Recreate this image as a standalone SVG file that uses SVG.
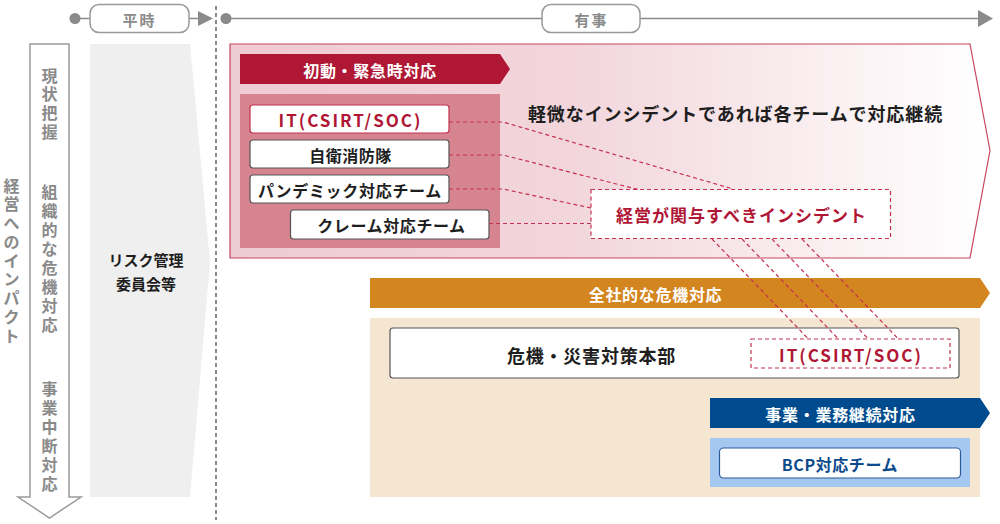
<svg xmlns="http://www.w3.org/2000/svg" width="1000" height="524" viewBox="0 0 1000 524">
<defs>
<style>
text{font-family:"Noto Sans CJK JP","Noto Sans",sans-serif;font-weight:bold;dominant-baseline:central}
.grey{fill:#8a8a8a}
.w{fill:#fff;font-size:16px;text-anchor:middle;letter-spacing:0.7px}
.blk{fill:#1e1e1e;text-anchor:middle}
.red{fill:#b01735;text-anchor:middle}
.tl{stroke:#8a8a8a;stroke-width:1.5;fill:none}
.pill{fill:#fff;stroke:#9a9a9a;stroke-width:1.5}
.team{fill:#fff;stroke:#555;stroke-width:1.2}
.dl{stroke:#c4304f;stroke-width:1.2;fill:none;stroke-dasharray:4 3}
.vt{font-size:16px;text-anchor:middle}
</style>
<linearGradient id="pinkg" x1="0" y1="0" x2="1" y2="0">
<stop offset="0" stop-color="#efcbd3"/>
<stop offset="0.45" stop-color="#f2d6dc"/>
<stop offset="1" stop-color="#ffffff"/>
</linearGradient>
</defs>

<g id="timeline">
<line class="tl" x1="75" y1="18.5" x2="200" y2="18.5"/>
<circle cx="75" cy="18.5" r="5.5" fill="#8a8a8a"/>
<rect class="pill" x="90" y="4.5" width="99" height="28" rx="9"/>
<text class="grey" x="139.5" y="19" font-size="15" text-anchor="middle" letter-spacing="2">平時</text>
<polygon points="198,11 213,18.5 198,26" fill="#8a8a8a"/>
<line x1="216" y1="6" x2="216" y2="520" stroke="#8a8a8a" stroke-width="2" stroke-dasharray="4 3"/>
<line class="tl" x1="226" y1="18.5" x2="980" y2="18.5"/>
<circle cx="226" cy="18.5" r="5.5" fill="#8a8a8a"/>
<rect class="pill" x="542" y="4.5" width="98" height="28" rx="9"/>
<text class="grey" x="591.5" y="19" font-size="15" text-anchor="middle" letter-spacing="2">有事</text>
<polygon points="978,10 993,18.5 978,27" fill="#8a8a8a"/>
</g>

<g id="impact">
<polygon points="30,44 69,44 69,497 81,497 49.5,518 18,497 30,497" fill="#fff" stroke="#9a9a9a" stroke-width="1.5"/>
<text class="grey vt" x="49.5 49.5 49.5 49.5" y="74.5 93.2 111.9 130.6">現状把握</text>
<text class="grey vt" x="49.5 49.5 49.5 49.5 49.5 49.5 49.5 49.5" y="190.5 209.6 228.7 247.8 266.9 286 305.1 324.2">組織的な危機対応</text>
<text class="grey vt" x="49.5 49.5 49.5 49.5 49.5 49.5" y="387.5 406.5 425.5 444.5 463.5 482.5">事業中断対応</text>
<text class="grey vt" x="11.5 11.5 11.5 11.5 11.5 11.5 11.5 11.5 11.5" y="184.5 203.3 222 240.8 259.5 278.3 297 315.8 334.5">経営へのインパクト</text>
</g>

<g id="risk-committee">
<polygon points="90,44 190,44 210,262 190,497 90,497" fill="#efefef"/>
<text class="blk" x="146" y="259" font-size="15">リスク管理</text>
<text class="blk" x="146" y="283" font-size="15">委員会等</text>
</g>

<g id="initial-response">
<polygon points="230,44 970,44 990,150.5 970,258 230,258" fill="url(#pinkg)" stroke="#c8455f" stroke-width="1.2"/>
<polygon points="240,54 500,54 510,69 500,84 240,84" fill="#b01735"/>
<text class="w" x="370" y="69.5">初動・緊急時対応</text>
<rect x="240" y="94" width="260" height="154" fill="#d6848f"/>
<text class="blk" x="735.5" y="113" font-size="18" letter-spacing="0.9">軽微なインシデントであれば各チームで対応継続</text>
</g>

<g id="team-it">
<rect x="250" y="105" width="199" height="28" rx="3" fill="#fff" stroke="#c4304f" stroke-width="1.2"/>
<text class="red" x="350.5" y="119.5" font-size="17" letter-spacing="2">IT(CSIRT/SOC)</text>
</g>
<g id="team-fire">
<rect class="team" x="250" y="140" width="199" height="28" rx="3"/>
<text class="blk" x="350.5" y="154.5" font-size="16" letter-spacing="0.5">自衛消防隊</text>
</g>
<g id="team-pandemic">
<rect class="team" x="250" y="175" width="199" height="28" rx="3"/>
<text class="blk" x="350" y="189.5" font-size="16" letter-spacing="0.7">パンデミック対応チーム</text>
</g>
<g id="team-claim">
<rect class="team" x="290.5" y="210" width="198.5" height="29" rx="3"/>
<text class="blk" x="391.5" y="224.5" font-size="16" letter-spacing="0.6">クレーム対応チーム</text>
</g>

<g id="mgmt-incident">
<rect x="591" y="189.5" width="299.5" height="49" fill="#fff" stroke="#c4304f" stroke-width="1.2" stroke-dasharray="4 3"/>
<text class="red" x="741.5" y="214" font-size="17" letter-spacing="1">経営が関与すべきインシデント</text>
</g>

<g id="company-wide">
<polygon points="370,278 980,278 990,293 980,308 370,308" fill="#d3851f"/>
<text class="w" x="655.5" y="293.5">全社的な危機対応</text>
<rect x="370" y="318" width="610" height="179" fill="#f5e6d2"/>
</g>

<g id="crisis-hq">
<rect x="390" y="328" width="569" height="50" rx="3" fill="#fff" stroke="#555" stroke-width="1.2"/>
<text class="blk" x="591.5" y="355" font-size="18" letter-spacing="0.8">危機・災害対策本部</text>
</g>

<g id="hq-it">
<rect x="751" y="339" width="199" height="29" fill="#fff" stroke="#c4304f" stroke-width="1.2" stroke-dasharray="4 3"/>
<text class="red" x="851" y="354.5" font-size="17" letter-spacing="2">IT(CSIRT/SOC)</text>
</g>

<g id="business-continuity">
<polygon points="710,398 980,398 990,413 980,428 710,428" fill="#004b8d"/>
<text class="w" x="840.5" y="413.5">事業・業務継続対応</text>
<rect x="710" y="438" width="260" height="49" fill="#a4c8f0"/>
</g>

<g id="bcp-team">
<rect x="719.5" y="448" width="241" height="30" rx="4" fill="#fff" stroke="#2a5a9a" stroke-width="1.2"/>
<text x="840" y="463.5" font-size="16" fill="#0d4a8c" text-anchor="middle" letter-spacing="0.6">BCP対応チーム</text>
</g>

<g id="connectors">
<polyline class="dl" points="449,122 503,122 733,189"/>
<polyline class="dl" points="449,155 503,155 638,189.5"/>
<polyline class="dl" points="449,189 503,189 591,208"/>
<polyline class="dl" points="489,223.5 591,223.5"/>
<line class="dl" x1="712" y1="239" x2="808" y2="338.5"/>
<line class="dl" x1="742" y1="239" x2="838" y2="338.5"/>
<line class="dl" x1="772" y1="239" x2="868" y2="338.5"/>
<line class="dl" x1="802" y1="239" x2="898" y2="338.5"/>
</g>
</svg>
